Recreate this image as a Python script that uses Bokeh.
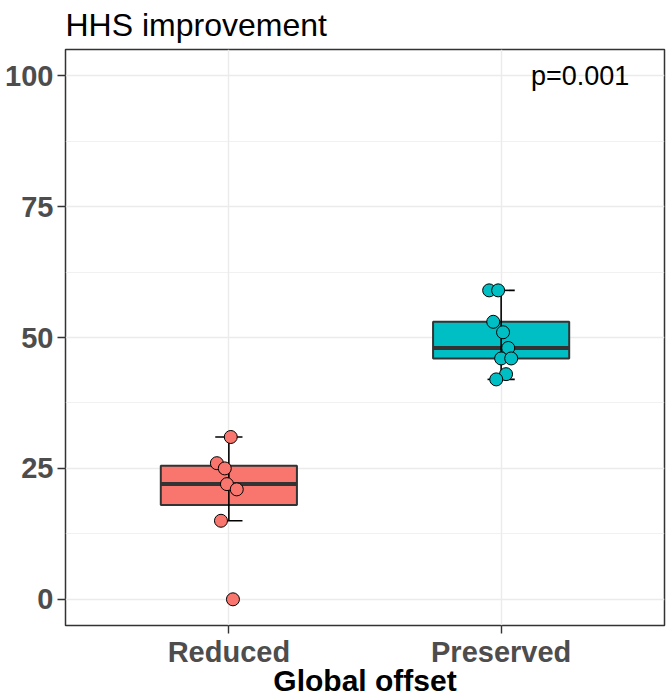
import numpy as np
from bokeh.plotting import figure
from bokeh.models import FixedTicker, Range1d, Label, ColumnDataSource
from bokeh.embed import file_html
from bokeh.resources import INLINE

# ---- data ----
categories = ["Reduced", "Preserved"]
cat_pos = [1, 2]
colors = ["#F8766D", "#00BFC4"]
reduced_vals = [31, 26, 25, 22, 21, 15, 0]
reduced_jitter = [0.007, -0.044, -0.015, -0.007, 0.029, -0.029, 0.015]
preserved_vals = [59, 59, 53, 51, 48, 46, 46, 43, 42]
preserved_jitter = [-0.044, -0.011, -0.029, 0.007, 0.026, 0.0, 0.037, 0.018, -0.018]
y_ticks = [0, 25, 50, 75, 100]
y_minor = [12.5, 37.5, 62.5, 87.5]
p_text = "p=0.001"
x_title = "Global offset"

series_vals = [reduced_vals, preserved_vals]
series_jit = [reduced_jitter, preserved_jitter]

FONT = "Liberation Sans"

p = figure(width=668, height=700, output_backend="svg", toolbar_location=None,
           x_range=Range1d(0.4, 2.6), y_range=Range1d(-5, 105),
           min_border_left=65, min_border_right=4, min_border_top=49,
           min_border_bottom=75)

p.background_fill_color = "white"
p.border_fill_color = "white"
p.outline_line_color = "#333333"
p.outline_line_width = 1.5

# title
p.title.text = "HHS improvement"
p.title.text_font = FONT
p.title.text_font_size = "32px"
p.title.text_font_style = "normal"
p.title.text_color = "black"
p.title.align = "left"
p.title.vertical_align = "top"
p.title.standoff = 10

# grids
p.xgrid.ticker = FixedTicker(ticks=cat_pos)
p.ygrid.ticker = FixedTicker(ticks=y_ticks, minor_ticks=y_minor)
for g in (p.xgrid, p.ygrid):
    g.grid_line_color = "#EBEBEB"
    g.grid_line_width = 1.4
p.ygrid.minor_grid_line_color = "#EBEBEB"
p.ygrid.minor_grid_line_width = 0.7

# axes
p.xaxis.ticker = FixedTicker(ticks=cat_pos)
p.xaxis.major_label_overrides = {c: n for c, n in zip(cat_pos, categories)}
p.yaxis.ticker = FixedTicker(ticks=y_ticks)
for ax in (p.xaxis, p.yaxis):
    ax.axis_line_color = None
    ax.major_tick_line_color = "#333333"
    ax.major_tick_line_width = 1.4
    ax.major_tick_in = 0
    ax.major_tick_out = 8
    ax.minor_tick_line_color = None
    ax.major_label_text_font = FONT
    ax.major_label_text_font_size = "29px"
    ax.major_label_text_font_style = "bold"
    ax.major_label_text_color = "#4D4D4D"
    ax.major_label_standoff = 4
p.xaxis.major_label_standoff = 2
p.xaxis.axis_label = x_title
p.xaxis.axis_label_text_font = FONT
p.xaxis.axis_label_text_font_size = "30px"
p.xaxis.axis_label_text_font_style = "bold"
p.xaxis.axis_label_text_color = "black"
p.xaxis.axis_label_standoff = -7

# boxplots
box_w = 0.5
cap_w = 0.1
for pos, vals, jit, col in zip(cat_pos, series_vals, series_jit, colors):
    v = np.array(vals, dtype=float)
    q1, med, q3 = np.percentile(v, [25, 50, 75])
    iqr = q3 - q1
    lo = v[v >= q1 - 1.5 * iqr].min()
    hi = v[v <= q3 + 1.5 * iqr].max()
    p.quad(left=[pos - box_w / 2], right=[pos + box_w / 2], bottom=[q1], top=[q3],
           fill_color=col, line_color="#333333", line_width=2)
    p.segment(x0=[pos - box_w / 2], x1=[pos + box_w / 2], y0=[med], y1=[med],
              line_color="#333333", line_width=4)
    # error bar whiskers
    p.segment(x0=[pos], x1=[pos], y0=[lo], y1=[hi], line_color="black", line_width=1.6)
    p.segment(x0=[pos - cap_w / 2, pos - cap_w / 2], x1=[pos + cap_w / 2, pos + cap_w / 2],
              y0=[lo, hi], y1=[lo, hi], line_color="black", line_width=1.6)
    src = ColumnDataSource(dict(x=[pos + j for j in jit], y=vals))
    p.scatter("x", "y", source=src, size=13, fill_color=col, line_color="black",
              line_width=1)

p.add_layout(Label(x=2.29, y=100, text=p_text, text_font=FONT, text_font_size="27px",
                   text_align="center", text_baseline="middle", text_color="black"))

open("out.html", "w").write(file_html(p, INLINE))
